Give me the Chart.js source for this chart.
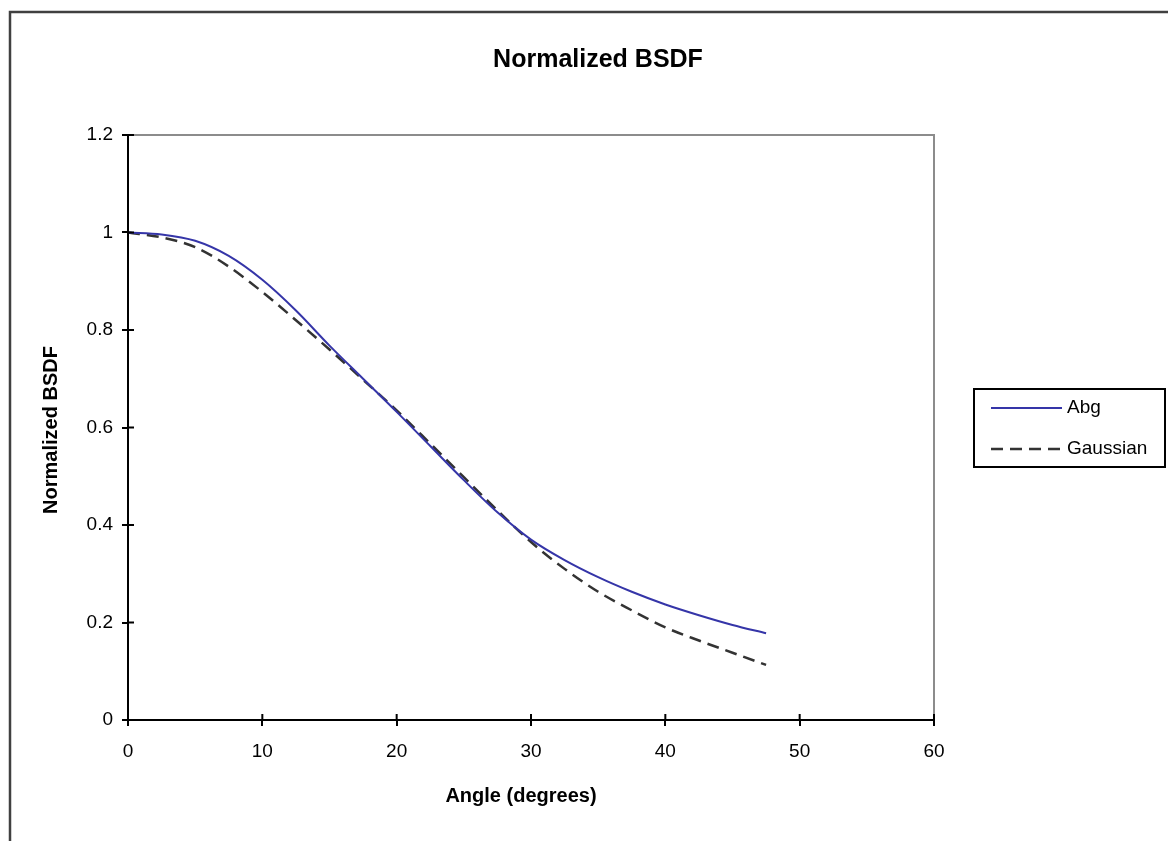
<!DOCTYPE html>
<html>
<head>
<meta charset="utf-8">
<title>Normalized BSDF</title>
<script src="https://cdn.jsdelivr.net/npm/chart.js@4.4.1/dist/chart.umd.min.js"></script>
<style>
  html, body { margin: 0; padding: 0; background: #fff; overflow: hidden; }
  #wrap { position: relative; width: 1168px; height: 841px; }
</style>
</head>
<body>
<div id="wrap"><canvas id="bsdf" width="1168" height="841"></canvas></div>
<script>
// angles (degrees) sampled along both curves
const angles = [0, 2.5, 5, 7.5, 10, 12.5, 15, 17.5, 20, 22.5, 25, 27.5, 30, 32.5, 35, 37.5, 40, 42.5, 45, 47.5];
const abgValues = [1.0, 0.996, 0.983, 0.952, 0.903, 0.84, 0.768, 0.70, 0.632, 0.562, 0.492, 0.426, 0.37, 0.328, 0.293, 0.263, 0.237, 0.215, 0.195, 0.178];
const gaussianValues = [1.0, 0.99, 0.97, 0.93, 0.878, 0.82, 0.76, 0.698, 0.635, 0.567, 0.498, 0.43, 0.365, 0.31, 0.263, 0.225, 0.19, 0.163, 0.138, 0.113];
const xTicks = [0, 10, 20, 30, 40, 50, 60];
const yTicks = [0, 0.2, 0.4, 0.6, 0.8, 1, 1.2];

const FONT = '"Liberation Sans", Arial, sans-serif';

const toPoints = vals => angles.map((a, i) => ({ x: a, y: vals[i] }));

// titles, plot frame, inner ticks and the boxed legend
const decorations = {
    id: 'decorations',
    afterDraw(chart) {
        const { ctx, chartArea: area, scales } = chart;
        ctx.save();

        // outer chart border (only top and left visible)
        ctx.strokeStyle = '#404040';
        ctx.lineWidth = 2.5;
        ctx.beginPath();
        ctx.moveTo(10, 841);
        ctx.lineTo(10, 12);
        ctx.lineTo(1168, 12);
        ctx.stroke();

        // gray top/right edge of plot area
        ctx.strokeStyle = '#8c8c8c';
        ctx.lineWidth = 2;
        ctx.beginPath();
        ctx.moveTo(area.left, area.top);
        ctx.lineTo(area.right, area.top);
        ctx.lineTo(area.right, area.bottom);
        ctx.stroke();

        // axis lines redrawn on top
        ctx.strokeStyle = '#000';
        ctx.lineWidth = 2;
        ctx.beginPath();
        ctx.moveTo(area.left, area.top);
        ctx.lineTo(area.left, area.bottom);
        ctx.lineTo(area.right, area.bottom);
        ctx.stroke();

        // inner half of the crossing tick marks
        ctx.beginPath();
        xTicks.forEach(v => {
            const px = scales.x.getPixelForValue(v);
            ctx.moveTo(px, area.bottom);
            ctx.lineTo(px, area.bottom - 6);
        });
        yTicks.forEach(v => {
            const py = scales.y.getPixelForValue(v);
            ctx.moveTo(area.left, py);
            ctx.lineTo(area.left + 6, py);
        });
        ctx.stroke();

        // titles
        ctx.fillStyle = '#000';
        ctx.textAlign = 'center';
        ctx.textBaseline = 'middle';
        ctx.font = 'bold 25px ' + FONT;
        ctx.fillText('Normalized BSDF', 598, 60);
        ctx.font = 'bold 20px ' + FONT;
        ctx.fillText('Angle (degrees)', 521, 796);
        ctx.save();
        ctx.translate(51, 430);
        ctx.rotate(-Math.PI / 2);
        ctx.fillText('Normalized BSDF', 0, 0);
        ctx.restore();

        // legend box
        ctx.strokeStyle = '#000';
        ctx.lineWidth = 2;
        ctx.strokeRect(974, 389, 191, 78);
        ctx.font = '19px ' + FONT;
        ctx.textAlign = 'left';
        chart.data.datasets.forEach((ds, i) => {
            const y = 408 + i * 41;
            ctx.strokeStyle = ds.borderColor;
            ctx.lineWidth = ds.borderWidth;
            ctx.setLineDash(ds.borderDash || []);
            ctx.beginPath();
            ctx.moveTo(991, y);
            ctx.lineTo(1062, y);
            ctx.stroke();
            ctx.setLineDash([]);
            ctx.fillStyle = '#000';
            ctx.fillText(ds.label, 1067, y);
        });

        ctx.restore();
    }
};

new Chart(document.getElementById('bsdf'), {
    type: 'line',
    data: {
        datasets: [
            {
                label: 'Abg',
                data: toPoints(abgValues),
                borderColor: '#3535a8',
                borderWidth: 2,
                pointRadius: 0,
                cubicInterpolationMode: 'monotone'
            },
            {
                label: 'Gaussian',
                data: toPoints(gaussianValues),
                borderColor: '#333333',
                borderWidth: 2.5,
                borderDash: [12, 7],
                pointRadius: 0,
                cubicInterpolationMode: 'monotone'
            }
        ]
    },
    options: {
        responsive: false,
        animation: false,
        layout: { padding: { top: 135, right: 234, left: 0, bottom: 0 } },
        plugins: {
            legend: { display: false },
            title: { display: false },
            tooltip: { enabled: false }
        },
        scales: {
            x: {
                type: 'linear',
                min: 0,
                max: 60,
                afterFit(scale) { scale.height = 121; },
                afterBuildTicks(scale) { scale.ticks = xTicks.map(v => ({ value: v })); },
                grid: { drawOnChartArea: false, color: '#000', lineWidth: 2, tickLength: 6 },
                border: { color: '#000', width: 2 },
                ticks: { color: '#000', padding: 14, maxRotation: 0, font: { family: FONT, size: 19 } }
            },
            y: {
                min: 0,
                max: 1.2,
                afterFit(scale) { scale.width = 128; },
                afterBuildTicks(scale) { scale.ticks = yTicks.map(v => ({ value: v })); },
                grid: { drawOnChartArea: false, color: '#000', lineWidth: 2, tickLength: 6 },
                border: { color: '#000', width: 2 },
                ticks: {
                    color: '#000',
                    padding: 9,
                    font: { family: FONT, size: 19 },
                    callback: v => String(Math.round(v * 10) / 10)
                }
            }
        }
    },
    plugins: [decorations]
});
</script>
</body>
</html>
